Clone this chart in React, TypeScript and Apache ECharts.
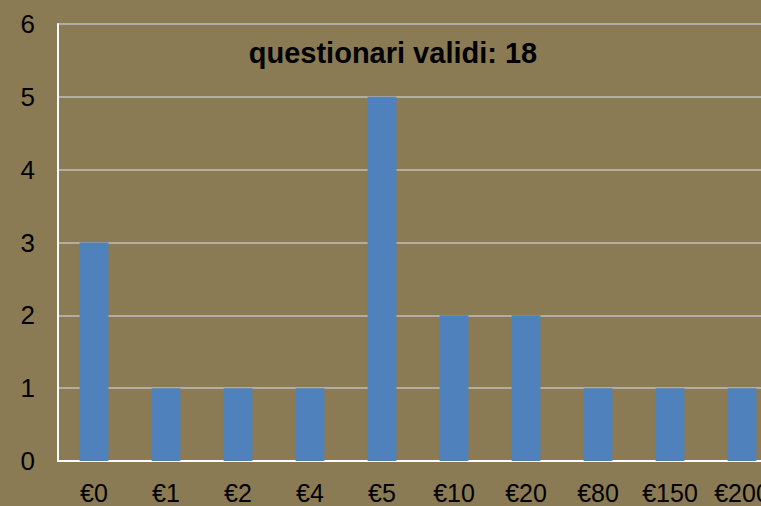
import React, { useEffect, useRef } from "react";
import * as echarts from "echarts";

const categories = ["€0", "€1", "€2", "€4", "€5", "€10", "€20", "€80", "€150", "€200"];
const counts = [3, 1, 1, 1, 5, 2, 2, 1, 1, 1];
const titleText = "questionari validi: 18";

export default function App() {
  const ref = useRef<HTMLDivElement>(null);
  useEffect(() => {
    const chart = echarts.init(ref.current!, undefined, { renderer: "svg" });
    chart.setOption({
      animation: false,
      backgroundColor: "#8B7B55",
      textStyle: { fontFamily: "Liberation Sans, Arial, sans-serif" },
      graphic: [
        {
          type: "text",
          x: 393,
          y: 53,
          style: {
            text: titleText,
            fontSize: 29,
            fontWeight: "bold",
            fontFamily: "Liberation Sans, Arial, sans-serif",
            fill: "#000",
            textAlign: "center",
            textVerticalAlign: "middle",
          },
          z: 10,
        },
      ],
      grid: { left: 58, top: 24, width: 720, height: 437, containLabel: false },
      xAxis: {
        type: "category",
        data: categories,
        axisLine: { show: true, lineStyle: { color: "#FFFFFF", width: 2 } },
        axisTick: { show: false },
        axisLabel: {
          color: "#000",
          fontSize: 25,
          lineHeight: 20,
          margin: 22,
          interval: 0,
        },
        splitLine: { show: false },
      },
      yAxis: {
        type: "value",
        min: 0,
        max: 6,
        interval: 1,
        axisLine: { show: true, lineStyle: { color: "#FFFFFF", width: 2 } },
        axisTick: { show: false },
        axisLabel: { color: "#000", fontSize: 26, margin: 23 },
        splitLine: { show: true, lineStyle: { color: "#BFBFBF", width: 1.5 } },
      },
      series: [
        {
          type: "bar",
          data: counts,
          barWidth: "40%",
          itemStyle: { color: "#4F81BD" },
        },
      ],
    });
    return () => chart.dispose();
  }, []);
  return (
    <div
      style={{
        position: "fixed",
        left: 0,
        top: 0,
        width: 761,
        height: 506,
        overflow: "hidden",
        background: "#8B7B55",
      }}
    >
      <div ref={ref} style={{ width: 800, height: 506 }} />
    </div>
  );
}
